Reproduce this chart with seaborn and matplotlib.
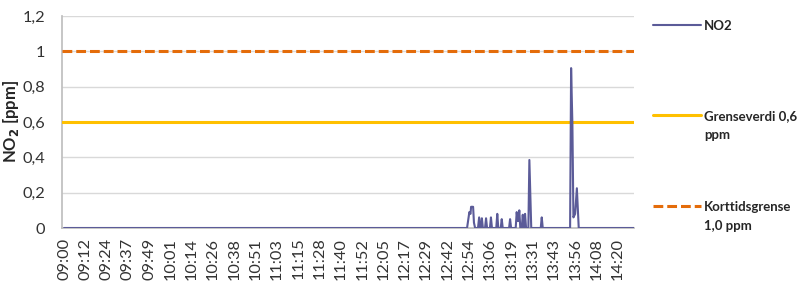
import matplotlib
matplotlib.use("Agg")
import matplotlib.pyplot as plt
from matplotlib.lines import Line2D
import numpy as np
import pandas as pd
import seaborn as sns

# ---- data ----
times = ["09:00:00", "12:53:20", "12:54:40", "12:55:20", "12:55:40", "12:56:50", "12:57:20", "12:58:00",
         "12:59:40", "13:00:20", "13:00:55", "13:01:20", "13:01:55", "13:02:30", "13:03:45", "13:04:20",
         "13:04:55", "13:06:35", "13:07:10", "13:07:45", "13:10:15", "13:10:50", "13:11:25", "13:12:50",
         "13:13:25", "13:14:00", "13:17:40", "13:18:15", "13:18:50", "13:21:30", "13:22:05", "13:22:40",
         "13:23:00", "13:23:35", "13:24:10", "13:25:00", "13:25:35", "13:26:10", "13:26:20", "13:26:55",
         "13:27:30", "13:28:50", "13:29:25", "13:30:30", "13:36:00", "13:36:35", "13:37:10", "13:53:00",
         "13:53:35", "13:54:20", "13:54:55", "13:55:55", "13:56:55", "13:58:00", "14:30:00"]
no2 = [0, 0, 0.09, 0.08, 0.12, 0.12, 0.03, 0,
       0, 0.06, 0, 0, 0.055, 0, 0, 0.055,
       0, 0, 0.06, 0, 0, 0.08, 0, 0,
       0.05, 0, 0, 0.05, 0, 0, 0.09, 0.04,
       0.04, 0.10, 0, 0, 0.075, 0, 0, 0.08,
       0, 0, 0.385, 0, 0, 0.06, 0, 0,
       0.905, 0.585, 0.06, 0.08, 0.225, 0, 0]
grenseverdi = 0.6
korttidsgrense = 1.0
tick_labels = ["09:00", "09:12", "09:24", "09:37", "09:49", "10:01", "10:14", "10:26", "10:38",
               "10:51", "11:03", "11:15", "11:28", "11:40", "11:52", "12:05", "12:17", "12:29",
               "12:42", "12:54", "13:06", "13:19", "13:31", "13:43", "13:56", "14:08", "14:20"]
tick_step_seconds = 740
y_ticks = [0, 0.2, 0.4, 0.6, 0.8, 1.0, 1.2]

# ---- build frame ----
t = pd.to_timedelta(times)
minutes = (t - t[0]).total_seconds() / 60.0
df = pd.DataFrame({"min": minutes, "NO2": no2})

sns.set_theme(style="white")
plt.rcParams["font.family"] = ["Lato", "DejaVu Sans"]

fig = plt.figure(figsize=(8, 2.85), dpi=100)
ax = fig.add_axes([62 / 800, 1 - 228 / 285, (634 - 62) / 800, (228 - 16) / 285])

c_no2 = "#5B5B98"
c_gr = "#FFC000"
c_kt = "#E46C0A"

ax.axhline(grenseverdi, color=c_gr, lw=2.2, zorder=3)
ax.axhline(korttidsgrense, color=c_kt, lw=2.2, dashes=(3.2, 1.3), zorder=3)
sns.lineplot(data=df, x="min", y="NO2", ax=ax, color=c_no2, lw=1.5, zorder=4, legend=False)

tick_pos = [i * tick_step_seconds / 60.0 for i in range(len(tick_labels))]
ax.set_xticks(tick_pos)
ax.set_xticklabels(tick_labels, rotation=90, fontsize=11.8, color="#333333")
ax.set_xlim(-1.2, 330)
ax.set_ylim(0, 1.2)
ax.set_yticks(y_ticks)
ax.set_yticklabels([("%g" % v).replace(".", ",") for v in y_ticks], fontsize=11.8, color="#333333")
ax.tick_params(axis="y", length=0, pad=12)
ax.tick_params(axis="x", length=0, pad=7)
ax.grid(axis="y", color="#D9D9D9", lw=1)
ax.set_axisbelow(True)
ax.set_xlabel("")
ax.set_ylabel(r"NO$_\mathbf{2}$ [ppm]", fontsize=12, fontweight="bold", labelpad=1)
for s in ["top", "right"]:
    ax.spines[s].set_visible(False)
ax.spines["left"].set_color("#BFBFBF")
ax.spines["bottom"].set_color("#BFBFBF")

# ---- legends ----
blank = Line2D([], [], linestyle="none")
kw = dict(frameon=False, prop={"weight": "bold", "size": 9.5}, handlelength=3.6,
          handletextpad=0.25, labelspacing=0.55, borderpad=0, borderaxespad=0, loc="upper left")
h1 = Line2D([], [], color=c_no2, lw=1.5)
h2 = Line2D([], [], color=c_gr, lw=2.2)
h3 = Line2D([], [], color=c_kt, lw=2.2, dashes=(3.2, 1.3))
fig.legend([h1], ["NO2"], bbox_to_anchor=(653 / 800, 1 - 20 / 285), **kw)
fig.legend([h2, blank], ["Grenseverdi 0,6", "ppm"], bbox_to_anchor=(653 / 800, 1 - 110 / 285), **kw)
fig.legend([h3, blank], ["Korttidsgrense", "1,0 ppm"], bbox_to_anchor=(653 / 800, 1 - 201 / 285), **kw)

fig.savefig("out.png", dpi=100)
